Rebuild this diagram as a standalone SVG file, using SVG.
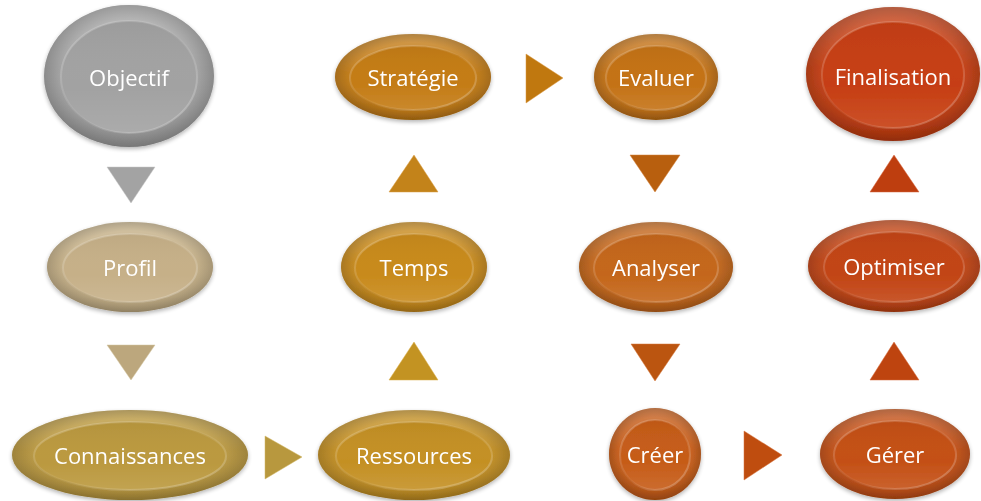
<svg xmlns="http://www.w3.org/2000/svg" width="981" height="501" viewBox="0 0 981 501">
<defs>
  <linearGradient id="gOuter" x1="0" y1="0" x2="0" y2="1">
    <stop offset="0" stop-color="#ffffff" stop-opacity="0.25"/>
    <stop offset="0.45" stop-color="#ffffff" stop-opacity="0.05"/>
    <stop offset="1" stop-color="#000000" stop-opacity="0.12"/>
  </linearGradient>
  <radialGradient id="gRim" cx="0.5" cy="0.5" r="0.5">
    <stop offset="0.8" stop-color="#000000" stop-opacity="0"/>
    <stop offset="1" stop-color="#000000" stop-opacity="0.16"/>
  </radialGradient>
  <linearGradient id="gInner" x1="0" y1="0" x2="0" y2="1">
    <stop offset="0" stop-color="#000000" stop-opacity="0.04"/>
    <stop offset="0.6" stop-color="#ffffff" stop-opacity="0"/>
    <stop offset="1" stop-color="#ffffff" stop-opacity="0.1"/>
  </linearGradient>
  <linearGradient id="gInnerStroke" x1="0" y1="0" x2="1" y2="1">
    <stop offset="0" stop-color="#ffffff" stop-opacity="0.25"/>
    <stop offset="0.5" stop-color="#ffffff" stop-opacity="0.05"/>
    <stop offset="1" stop-color="#ffffff" stop-opacity="0.3"/>
  </linearGradient>
  <filter id="shadow" x="-20%" y="-20%" width="140%" height="150%">
    <feGaussianBlur in="SourceAlpha" stdDeviation="2"/>
    <feOffset dx="0" dy="2" result="b"/>
    <feComponentTransfer><feFuncA type="linear" slope="0.3"/></feComponentTransfer>
    <feMerge><feMergeNode/><feMergeNode in="SourceGraphic"/></feMerge>
  </filter>
</defs>
<style>
  .lbl { font-family: "Open Sans", "Noto Sans", "Liberation Sans", sans-serif; font-size: 22px; fill: #ffffff; text-anchor: middle; dominant-baseline: central; }
  .ov { fill: url(#gOuter); }
  .rim { fill: url(#gRim); }
  .inS { fill: url(#gInner); stroke: url(#gInnerStroke); stroke-width: 2; }
  .tri { stroke-width: 1; stroke-opacity: 0.5; }
</style>

<g id="connectors">
  <polygon class="tri" points="107,167 155,167 131,203" fill="#a3a3a3" stroke="#c8c8c8"/>
  <polygon class="tri" points="107,345 155,345 131,380" fill="#bca77d" stroke="#d6c7a4"/>
  <polygon class="tri" points="265,436 265,479 302,457" fill="#b8983e" stroke="#d3b968"/>
  <polygon class="tri" points="389,380 438,380 414,342" fill="#c39322" stroke="#ddb24e"/>
  <polygon class="tri" points="389,192 438,192 414,155" fill="#c3831a" stroke="#dea14a"/>
  <polygon class="tri" points="526,54 526,103 563,78" fill="#c0780f" stroke="#db9a44"/>
  <polygon class="tri" points="630,155 680,155 655,192" fill="#b85f0e" stroke="#d5843e"/>
  <polygon class="tri" points="631,344 680,344 655,381" fill="#bb5510" stroke="#d77a3e"/>
  <polygon class="tri" points="744,431 744,480 782,455" fill="#bf4d0f" stroke="#da7540"/>
  <polygon class="tri" points="870,380 919,380 894,342" fill="#be440f" stroke="#d96d40"/>
  <polygon class="tri" points="870,192 919,192 894,155" fill="#be3e0f" stroke="#d9683f"/>
</g>

<g id="node-objectif" filter="url(#shadow)">
  <ellipse cx="129" cy="76" rx="85" ry="71" fill="#a0a0a0"/>
  <ellipse class="ov" cx="129" cy="76" rx="85" ry="71"/>
  <ellipse class="rim" cx="129" cy="76" rx="85" ry="71"/>
  <ellipse cx="129" cy="77" rx="68" ry="56" fill="#a2a2a2"/>
  <ellipse class="inS" cx="129" cy="77" rx="68" ry="56"/>
  <text class="lbl" x="129" y="77">Objectif</text>
</g>
<g id="node-profil" filter="url(#shadow)">
  <ellipse cx="130" cy="267" rx="83" ry="45" fill="#c3ae85"/>
  <ellipse class="ov" cx="130" cy="267" rx="83" ry="45"/>
  <ellipse class="rim" cx="130" cy="267" rx="83" ry="45"/>
  <ellipse cx="130" cy="268" rx="67" ry="34" fill="#c6b088"/>
  <ellipse class="inS" cx="130" cy="268" rx="67" ry="34"/>
  <text class="lbl" x="130" y="267">Profil</text>
</g>
<g id="node-connaissances" filter="url(#shadow)">
  <ellipse cx="130" cy="455" rx="118" ry="45" fill="#b9973e"/>
  <ellipse class="ov" cx="130" cy="455" rx="118" ry="45"/>
  <ellipse class="rim" cx="130" cy="455" rx="118" ry="45"/>
  <ellipse cx="130" cy="456" rx="96" ry="34" fill="#bb993f"/>
  <ellipse class="inS" cx="130" cy="456" rx="96" ry="34"/>
  <text class="lbl" x="130" y="455">Connaissances</text>
</g>
<g id="node-ressources" filter="url(#shadow)">
  <ellipse cx="414" cy="455" rx="96" ry="45" fill="#c28e22"/>
  <ellipse class="ov" cx="414" cy="455" rx="96" ry="45"/>
  <ellipse class="rim" cx="414" cy="455" rx="96" ry="45"/>
  <ellipse cx="414" cy="456" rx="78" ry="34" fill="#c49024"/>
  <ellipse class="inS" cx="414" cy="456" rx="78" ry="34"/>
  <text class="lbl" x="414" y="455">Ressources</text>
</g>
<g id="node-temps" filter="url(#shadow)">
  <ellipse cx="414" cy="267" rx="73" ry="45" fill="#c6881a"/>
  <ellipse class="ov" cx="414" cy="267" rx="73" ry="45"/>
  <ellipse class="rim" cx="414" cy="267" rx="73" ry="45"/>
  <ellipse cx="414" cy="268" rx="59" ry="34" fill="#c88a1c"/>
  <ellipse class="inS" cx="414" cy="268" rx="59" ry="34"/>
  <text class="lbl" x="414" y="267">Temps</text>
</g>
<g id="node-strategie" filter="url(#shadow)">
  <ellipse cx="413" cy="77" rx="78" ry="43" fill="#c27a14"/>
  <ellipse class="ov" cx="413" cy="77" rx="78" ry="43"/>
  <ellipse class="rim" cx="413" cy="77" rx="78" ry="43"/>
  <ellipse cx="413" cy="78" rx="63" ry="32" fill="#c47c16"/>
  <ellipse class="inS" cx="413" cy="78" rx="63" ry="32"/>
  <text class="lbl" x="413" y="77">Stratégie</text>
</g>
<g id="node-evaluer" filter="url(#shadow)">
  <ellipse cx="656" cy="77" rx="62" ry="43" fill="#c27014"/>
  <ellipse class="ov" cx="656" cy="77" rx="62" ry="43"/>
  <ellipse class="rim" cx="656" cy="77" rx="62" ry="43"/>
  <ellipse cx="656" cy="78" rx="50" ry="32" fill="#c47216"/>
  <ellipse class="inS" cx="656" cy="78" rx="50" ry="32"/>
  <text class="lbl" x="656" y="77">Evaluer</text>
</g>
<g id="node-analyser" filter="url(#shadow)">
  <ellipse cx="656" cy="267" rx="77" ry="45" fill="#c26418"/>
  <ellipse class="ov" cx="656" cy="267" rx="77" ry="45"/>
  <ellipse class="rim" cx="656" cy="267" rx="77" ry="45"/>
  <ellipse cx="656" cy="268" rx="62" ry="34" fill="#c4661a"/>
  <ellipse class="inS" cx="656" cy="268" rx="62" ry="34"/>
  <text class="lbl" x="656" y="267">Analyser</text>
</g>
<g id="node-creer" filter="url(#shadow)">
  <ellipse cx="655" cy="454" rx="46" ry="46" fill="#c45a16"/>
  <ellipse class="ov" cx="655" cy="454" rx="46" ry="46"/>
  <ellipse class="rim" cx="655" cy="454" rx="46" ry="46"/>
  <ellipse cx="655" cy="455" rx="35" ry="35" fill="#c65c18"/>
  <ellipse class="inS" cx="655" cy="455" rx="35" ry="35"/>
  <text class="lbl" x="655" y="454">Créer</text>
</g>
<g id="node-gerer" filter="url(#shadow)">
  <ellipse cx="895" cy="454" rx="75" ry="45" fill="#c24e14"/>
  <ellipse class="ov" cx="895" cy="454" rx="75" ry="45"/>
  <ellipse class="rim" cx="895" cy="454" rx="75" ry="45"/>
  <ellipse cx="895" cy="455" rx="61" ry="34" fill="#c45016"/>
  <ellipse class="inS" cx="895" cy="455" rx="61" ry="34"/>
  <text class="lbl" x="895" y="454">Gérer</text>
</g>
<g id="node-optimiser" filter="url(#shadow)">
  <ellipse cx="894" cy="266" rx="86" ry="46" fill="#c04212"/>
  <ellipse class="ov" cx="894" cy="266" rx="86" ry="46"/>
  <ellipse class="rim" cx="894" cy="266" rx="86" ry="46"/>
  <ellipse cx="894" cy="267" rx="70" ry="35" fill="#c24414"/>
  <ellipse class="inS" cx="894" cy="267" rx="70" ry="35"/>
  <text class="lbl" x="894" y="266">Optimiser</text>
</g>
<g id="node-finalisation" filter="url(#shadow)">
  <ellipse cx="893" cy="74" rx="87" ry="67" fill="#c43c10"/>
  <ellipse class="ov" cx="893" cy="74" rx="87" ry="67"/>
  <ellipse class="rim" cx="893" cy="74" rx="87" ry="67"/>
  <ellipse cx="893" cy="75" rx="71" ry="53" fill="#c63e12"/>
  <ellipse class="inS" cx="893" cy="75" rx="71" ry="53"/>
  <text class="lbl" x="893" y="76">Finalisation</text>
</g>
</svg>
